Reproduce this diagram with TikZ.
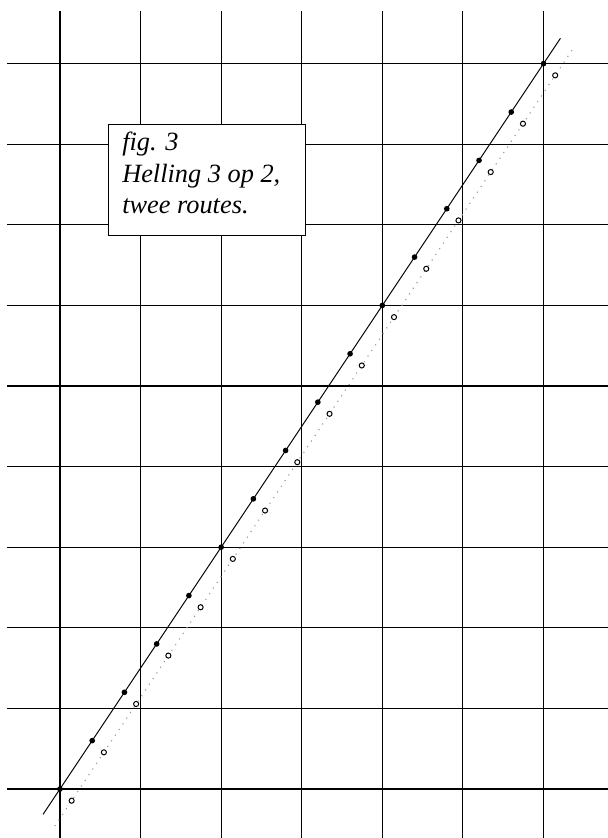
\documentclass[tikz,border=0pt]{standalone}
\usepackage{fontspec}
\setmainfont{Liberation Serif}

\begin{document}
\begin{tikzpicture}[
    gridline/.style={line width=0.4pt},
    routeone/.style={line width=0.35pt},
    routetwo/.style={line width=0.4pt, gray!80, dotted},
    fulldot/.style={circle, fill, inner sep=0pt, minimum size=2pt},
    opendot/.style={circle, draw, fill=white, line width=0.35pt, inner sep=0pt, minimum size=1.8pt},
    capframe/.style={draw, fill=white, line width=0.4pt, minimum width=2.44cm, minimum height=1.38cm, inner sep=0pt},
    captext/.style={inner sep=0pt, align=left, font=\fontsize{9.3}{11}\selectfont\itshape}]
    \useasboundingbox (-0.744,-0.608) rectangle (6.80,9.79);
    % raster
    \foreach \y in {0,...,9}
      \draw[gridline] (-0.66,\y) -- (6.80,\y);
    \foreach \x in {0,...,6}
      \draw[gridline] (\x,-0.608) -- (\x,9.65);
    % caption
    \node[capframe, anchor=north west] (frame) at (0.6,8.25) {};
    \node[captext, anchor=north west] (cap) at ([xshift=0.166cm, yshift=-0.095cm]frame.north west)
      {fig. 3\\Helling 3 op 2,\\twee routes.};
    % two routes
    \coordinate (a1) at (-0.21,-0.315);
    \coordinate (b1) at (6.21,9.315);
    \coordinate (a2) at (-0.065,-0.46);
    \coordinate (b2) at (6.355,9.17);
    \draw[routeone] (a1) -- (b1);
    \draw[routetwo] (a2) -- (b2);
    \foreach \i in {0,...,15} {
      \node[fulldot] (p\i) at (0.4*\i,0.6*\i) {};
      \node[opendot] (q\i) at (0.4*\i+0.145,0.6*\i-0.145) {};
    }
\end{tikzpicture}
\end{document}
